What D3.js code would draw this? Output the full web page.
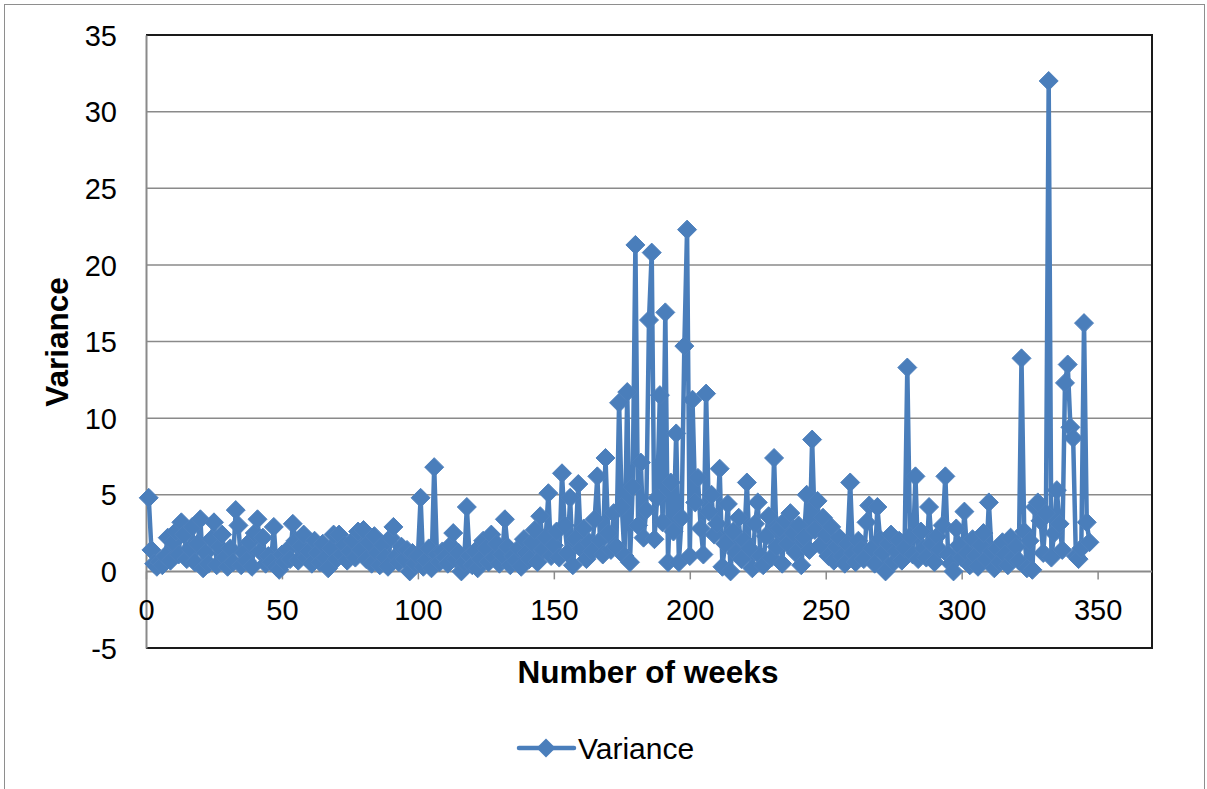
<!DOCTYPE html>
<html>
<head>
<meta charset="utf-8">
<script src="https://cdn.jsdelivr.net/npm/d3@7"></script>
<style>
html,body{margin:0;padding:0;background:#fff;}
svg{display:block;font-family:"Liberation Sans",Arial,sans-serif;}
</style>
</head>
<body>
<svg id="chart" width="1207" height="789"></svg>
<script>
// ---- data ----
const seriesName = "Variance";
const xTitle = "Number of weeks";
const yTitle = "Variance";
const xTicks = [0, 50, 100, 150, 200, 250, 300, 350];
const yTicks = [-5, 0, 5, 10, 15, 20, 25, 30, 35];
const variance = [
  4.8, 1.4, 0.5, 0.3, 0.6, 0.4, 1.0, 2.2, 0.7, 1.9,
  2.6, 1.1, 3.2, 2.4, 0.8, 1.5, 2.9, 0.6, 1.8, 3.4,
  0.2, 1.2, 0.5, 2.1, 3.2, 0.4, 1.6, 2.4, 0.9, 0.3,
  1.5, 0.6, 4.0, 3.0, 0.4, 1.2, 0.7, 1.9, 0.3, 2.5,
  3.4, 1.3, 2.2, 0.5, 1.0, 0.6, 2.9, 0.3, 0.1, 1.1,
  0.6, 1.4, 0.8, 3.1, 2.0, 0.7, 1.6, 2.4, 0.9, 1.3,
  0.5, 2.0, 1.2, 0.6, 1.8, 0.9, 0.2, 1.5, 2.4, 0.8,
  2.4, 1.1, 1.7, 0.7, 1.3, 2.0, 0.9, 2.6, 1.4, 2.7,
  0.8, 1.9, 0.5, 2.3, 1.2, 0.4, 1.7, 0.9, 0.3, 2.2,
  2.9, 1.0, 0.6, 1.6, 0.8, 1.4, 0.0, 1.2, 0.5, 1.0,
  4.8, 0.3, 0.7, 1.5, 0.2, 6.8, 1.1, 0.6, 1.3, 0.9,
  0.5, 1.7, 2.5, 0.8, 1.2, 0.0, 0.6, 4.2, 1.0, 0.4,
  1.3, 0.2, 0.8, 2.0, 1.5, 0.6, 2.4, 0.9, 1.8, 0.5,
  1.1, 3.4, 1.6, 0.4, 1.0, 0.7, 1.5, 0.3, 2.1, 1.2,
  0.8, 1.9, 2.7, 0.6, 3.6, 1.4, 2.2, 5.1, 1.0, 1.7,
  2.6, 0.9, 6.4, 3.0, 1.2, 4.8, 0.4, 2.1, 5.7, 1.5,
  2.8, 0.8, 1.9, 1.3, 3.4, 6.2, 2.0, 1.1, 7.4, 2.5,
  1.4, 3.8, 1.6, 11.0, 4.2, 1.0, 11.7, 0.6, 5.5, 21.3,
  3.0, 7.1, 2.2, 4.0, 16.4, 20.8, 2.1, 4.8, 11.5, 3.2,
  16.9, 0.6, 5.8, 2.6, 9.0, 0.6, 3.5, 14.7, 22.3, 1.0,
  11.2, 4.5, 6.1, 2.8, 1.1, 11.6, 3.9, 5.0, 2.4, 3.1,
  6.7, 0.3, 1.8, 4.4, 0.0, 2.6, 1.2, 3.5, 0.8, 2.0,
  5.8, 1.5, 0.2, 3.1, 4.5, 1.0, 0.4, 2.3, 3.6, 0.9,
  7.4, 1.6, 2.8, 0.5, 3.3, 1.8, 3.8, 2.5, 1.2, 3.0,
  0.4, 2.2, 5.0, 1.4, 8.6, 2.7, 4.6, 1.7, 3.5, 2.4,
  1.0, 2.9, 0.7, 1.6, 2.2, 1.0, 0.5, 1.8, 5.8, 1.2,
  0.6, 2.0, 1.4, 0.8, 3.2, 4.3, 1.5, 0.5, 4.2, 2.1,
  1.2, 0.0, 1.8, 2.4, 0.6, 1.3, 2.0, 0.7, 1.5, 13.3,
  2.3, 1.1, 6.2, 0.8, 2.6, 1.5, 0.9, 4.2, 1.8, 0.6,
  2.3, 1.4, 3.0, 6.2, 1.1, 0.5, 0.0, 2.8, 1.7, 0.9,
  3.9, 1.2, 0.4, 2.1, 1.0, 0.3, 1.7, 2.5, 0.8, 4.5,
  1.3, 0.2, 1.5, 0.6, 1.9, 1.1, 0.4, 2.2, 0.9, 1.6,
  0.7, 13.9, 2.6, 0.2, 2.0, 0.1, 4.2, 4.5, 3.3, 1.2,
  3.8, 32.0, 0.9, 2.5, 5.3, 3.1, 1.4, 12.3, 13.5, 9.4,
  8.7, 1.0, 0.8, 1.5, 16.2, 3.2, 1.9
];
const weeks = variance.map((v, i) => i + 1);

// ---- layout ----
const svg = d3.select("#chart");
const plot = {left: 146, right: 1152, top: 35, bottom: 648};
const blue = "#4A7EBB";
const fontFam = "'Liberation Sans', Arial, sans-serif";

svg.append("rect").attr("x", 4.5).attr("y", 4.5).attr("width", 1200).attr("height", 800)
  .attr("fill", "#fff").attr("stroke", "#8e8e8e").attr("stroke-width", 1);

const x = d3.scaleLinear().domain([0, 370]).range([plot.left, plot.right]);
const y = d3.scaleLinear().domain([-5, 35]).range([plot.bottom, plot.top]);

// gridlines
svg.append("g").selectAll("line").data(yTicks.filter(t => t !== 0 && t !== -5 && t !== 35)).join("line")
  .attr("x1", plot.left).attr("x2", plot.right)
  .attr("y1", d => y(d)).attr("y2", d => y(d))
  .attr("stroke", "#8a8a8a").attr("stroke-width", 1.5);

// plot border (top, right, bottom)
svg.append("path")
  .attr("d", `M${plot.left},${y(35)}H${plot.right}V${y(-5)}H${plot.left}`)
  .attr("fill", "none").attr("stroke", "#1a1a1a").attr("stroke-width", 2);

// y axis
const yAxis = d3.axisLeft(y).tickValues(yTicks).tickSize(0).tickPadding(29).tickFormat(d => String(d));
const gy = svg.append("g").attr("transform", `translate(${plot.left},0)`).call(yAxis);
gy.select(".domain").attr("stroke", "#8a8a8a").attr("stroke-width", 2);
gy.selectAll("text").attr("font-size", 29).attr("fill", "#000")
  .attr("font-family", fontFam).attr("dy", "0.35em");

// x axis at y = 0
const xAxis = d3.axisBottom(x).tickValues(xTicks).tickSize(8).tickPadding(20).tickFormat(d => String(d));
const gx = svg.append("g").attr("transform", `translate(0,${y(0)})`).call(xAxis);
gx.select(".domain").attr("d", `M${plot.left},0H${plot.right}`).attr("stroke", "#8a8a8a").attr("stroke-width", 2);
gx.selectAll(".tick line").attr("stroke", "#8a8a8a").attr("stroke-width", 1.5);
gx.selectAll("text").attr("font-size", 29).attr("fill", "#000").attr("font-family", fontFam);

// series line
const line = d3.line().x((d, i) => x(weeks[i])).y(d => y(d));
svg.append("path").datum(variance).attr("d", line)
  .attr("fill", "none").attr("stroke", blue).attr("stroke-width", 4.5).attr("stroke-linejoin", "round");

// markers
const r = 9.5;
const diamond = `M0,${-r}L${r},0L0,${r}L${-r},0Z`;
svg.append("g").selectAll("path").data(variance).join("path")
  .attr("transform", (d, i) => `translate(${x(weeks[i])},${y(d)})`)
  .attr("d", diamond).attr("fill", blue).attr("stroke", "#4F81BD").attr("stroke-width", 1);

// axis titles
svg.append("text").attr("x", 648).attr("y", 683).attr("text-anchor", "middle")
  .attr("font-size", 31.5).attr("font-weight", "bold").text(xTitle);
svg.append("text").attr("transform", `translate(68,342) rotate(-90)`).attr("text-anchor", "middle")
  .attr("font-size", 31.5).attr("font-weight", "bold").text(yTitle);

// legend
const lg = svg.append("g");
lg.append("line").attr("x1", 519).attr("x2", 574).attr("y1", 748).attr("y2", 748)
  .attr("stroke", blue).attr("stroke-width", 4.5).attr("stroke-linecap", "round");
lg.append("path").attr("transform", "translate(546,748)").attr("d", diamond).attr("fill", blue);
lg.append("text").attr("x", 578).attr("y", 759).attr("font-size", 30).text(seriesName);
</script>
</body>
</html>
